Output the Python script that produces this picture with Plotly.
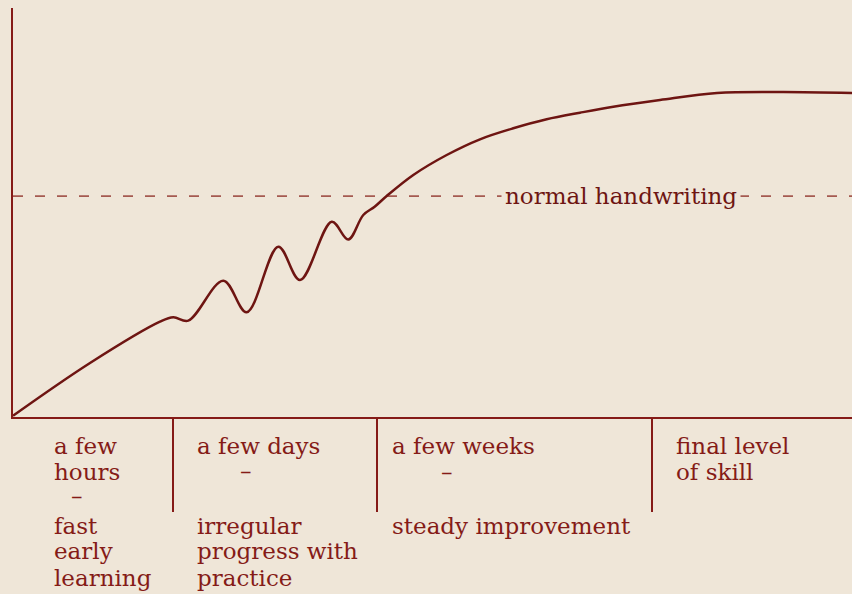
import plotly.graph_objects as go

# ---- data (x: time scale 0-100, y: skill level 0-100) ----
curve_x = [0.0, 9.18, 17.52, 19.11, 20.89, 25.07, 27.85, 31.62, 34.21, 37.99, 39.96,
           41.75, 43.10, 44.54, 47.71, 51.69, 55.66, 59.63, 63.61, 67.58, 71.55,
           77.12, 83.91, 91.78, 100.0]
curve_y = [0.3, 13.2, 23.3, 24.38, 23.55, 33.33, 25.60, 41.64, 33.50, 47.75, 43.40,
           49.39, 51.40, 54.03, 59.17, 64.06, 67.90, 70.59, 72.79, 74.40, 75.87,
           77.51, 79.22, 79.46, 79.22]
normal_level = 54.0
normal_label = "normal handwriting"
normal_label_x = 72.5
stage_bounds = [19.07, 43.4, 76.2]

col1 = ["a few", "hours", "–", "fast", "early", "learning"]
col2 = ["a few days", "–", "irregular", "progress with", "practice"]
col3 = ["a few weeks", "–", "steady improvement"]
col4 = ["final level", "of skill"]

# ---- layout constants (pixels) ----
W, H = 852, 594
L, T, B = 13, 8, 177
PW, PH = W - L, H - T - B
INK = "#851b17"
CURVE = "#6e1512"
BG = "#efe6d8"
FONT = "DejaVu Serif"
FS = 23

def px_x(px):
    return (px - L) / PW

def px_y(py):
    return (H - B - py) / PH

fig = go.Figure()
fig.add_trace(go.Scatter(
    x=[0, 100], y=[normal_level, normal_level], mode="lines",
    line=dict(color="#a55a50", width=1.6, dash="10px,12px"), hoverinfo="skip"))
fig.add_trace(go.Scatter(
    x=curve_x, y=curve_y, mode="lines",
    line=dict(color=CURVE, width=2.5, shape="spline", smoothing=1.0), hoverinfo="skip"))

ann = []
ann.append(dict(x=normal_label_x, y=normal_level, xref="x", yref="y", text=normal_label,
                showarrow=False, font=dict(family=FONT, size=FS, color=CURVE),
                bgcolor=BG, borderpad=3, xanchor="center", yanchor="middle"))

def add_col(lines, left_px, rows_py, dash_px):
    for txt, py in zip(lines, rows_py):
        if txt == "–":
            ann.append(dict(x=px_x(dash_px), y=px_y(py), xref="paper", yref="paper",
                            text=txt, showarrow=False, xanchor="center", yanchor="middle",
                            font=dict(family=FONT, size=FS, color=INK)))
        else:
            ann.append(dict(x=px_x(left_px), y=px_y(py), xref="paper", yref="paper",
                            text=txt, showarrow=False, xanchor="left", yanchor="middle",
                            font=dict(family=FONT, size=FS, color=INK)))

add_col(col1, 52, [446, 472, 496, 526, 551, 578], 77)
add_col(col2, 195, [446, 471, 526, 551, 578], 246)
add_col(col3, 390, [446, 472, 526], 447)
add_col(col4, 674, [446, 472], 0)

fig.update_layout(
    width=W, height=H, margin=dict(l=L, r=0, t=T, b=B),
    paper_bgcolor=BG, plot_bgcolor=BG, showlegend=False,
    annotations=ann,
    xaxis=dict(range=[0, 100], showgrid=False, zeroline=False, showline=True,
               linecolor=INK, linewidth=2.2, tickvals=stage_bounds, ticks="outside",
               ticklen=93, tickwidth=2.2, tickcolor=INK, showticklabels=False, fixedrange=True),
    yaxis=dict(range=[0, 100], showgrid=False, zeroline=False, showline=True,
               linecolor=INK, linewidth=2.2, showticklabels=False, ticks="", fixedrange=True),
)
fig.write_html("out.html", config={"displayModeBar": False},
               post_script="document.body.style.margin='0';document.body.style.overflow='hidden';"
                           "document.body.style.background='#efe6d8';")
